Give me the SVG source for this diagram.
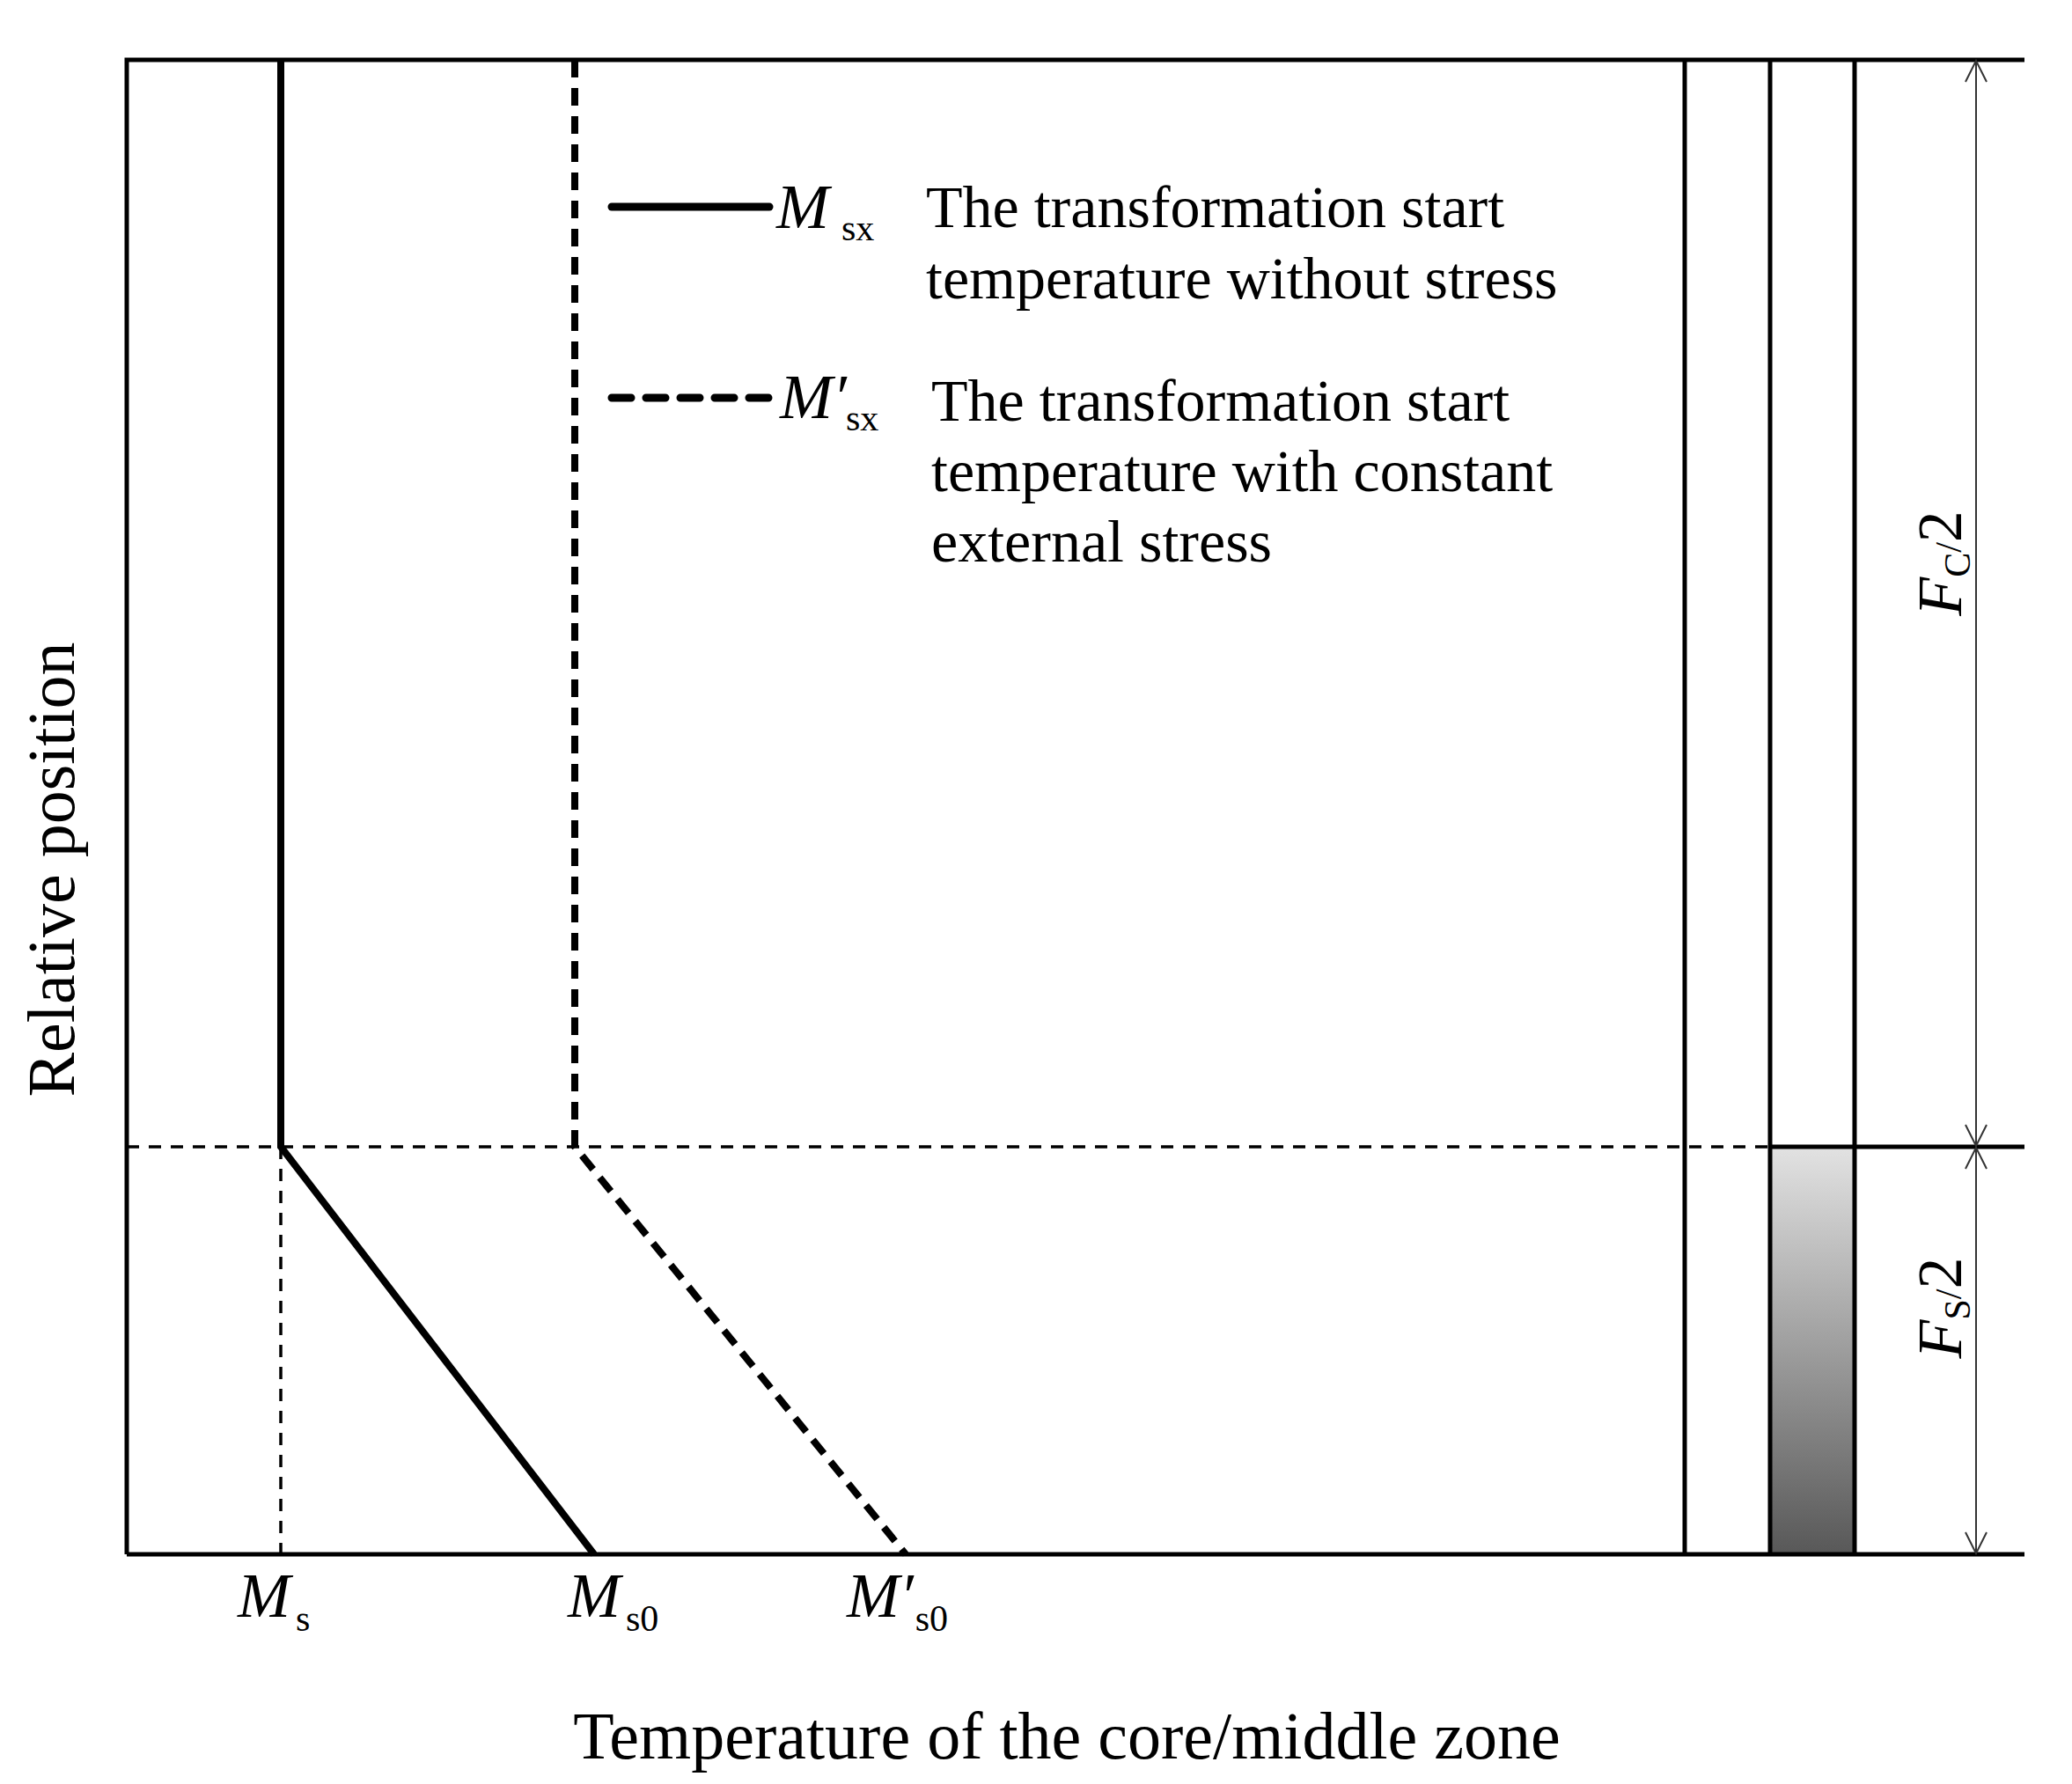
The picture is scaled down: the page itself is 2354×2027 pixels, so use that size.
<svg xmlns="http://www.w3.org/2000/svg" width="2354" height="2027" viewBox="0 0 2354 2027">
<style>
text{font-family:"Liberation Serif","Times New Roman",serif;fill:#000}
.t{font-size:68px}
.m{font-size:72px;font-style:italic}
.sub{font-size:42px;font-style:normal}
.frame{stroke:#000;stroke-width:5;fill:none}
.thick{stroke:#000;stroke-width:8;fill:none}
.thickd{stroke:#000;stroke-width:8;fill:none;stroke-dasharray:20,12}
.thind{stroke:#000;stroke-width:3.5;fill:none;stroke-dasharray:14,11}
.dim{stroke:#333;stroke-width:2;fill:none}
</style>
<defs>
<linearGradient id="g" x1="0" y1="0" x2="0" y2="1"><stop offset="0" stop-color="#e2e2e2"/><stop offset="1" stop-color="#585858"/></linearGradient>
<marker id="a" markerWidth="30" markerHeight="30" refX="28" refY="15" orient="auto-start-reverse" markerUnits="userSpaceOnUse" viewBox="0 0 30 30"><path d="M4,3 L28,15 L4,27" stroke="#333" stroke-width="2" fill="none"/></marker>
</defs>
<g id="frame">
<rect x="2011" y="1303" width="96" height="463" fill="url(#g)"/>
<path class="frame" d="M144,1766 V68 H2300 M144,1766 H2300 M1914,68 V1766 M2011,68 V1766 M2107,68 V1766 M2011,1303 H2300"/>
<path class="thind" d="M144,1303 H2011"/>
</g>
<g id="connectors">
<path class="thick" d="M319,68 V1303 L675,1766"/>
<path class="thickd" d="M653,68 V1303 L1029,1766"/>
<path class="thind" d="M319,1303 V1766"/>
<path class="dim" d="M2245,69 V1302" marker-start="url(#a)" marker-end="url(#a)"/>
<path class="dim" d="M2245,1304 V1765" marker-start="url(#a)" marker-end="url(#a)"/>
</g>
<g id="legend">
<path d="M695,235 H874" stroke="#000" stroke-width="9" stroke-linecap="round"/>
<path d="M695,452 H874" stroke="#000" stroke-width="9" stroke-linecap="round" stroke-dasharray="22,17"/>
<text class="m" x="882" y="259">M<tspan class="sub" x="956" dy="14">sx</tspan></text>
<text class="t" x="1052" y="258">The transformation start</text>
<text class="t" x="1052" y="339">temperature without stress</text>
<text class="m" x="886" y="475">M′<tspan class="sub" x="961" dy="14">sx</tspan></text>
<text class="t" x="1058" y="478">The transformation start</text>
<text class="t" x="1058" y="558">temperature with constant</text>
<text class="t" x="1058" y="638">external stress</text>
</g>
<g id="ticks">
<text class="m" x="270" y="1837">M<tspan class="sub" dx="6" dy="16">s</tspan></text>
<text class="m" x="645" y="1837">M<tspan class="sub" dx="6" dy="16">s0</tspan></text>
<text class="m" x="962" y="1837">M′<tspan class="sub" dx="2" dy="16">s0</tspan></text>
</g>
<g id="dims">
<text class="m" transform="translate(2228,640) rotate(-90)" text-anchor="middle">F<tspan class="sub" dy="10">C</tspan><tspan class="sub" dy="-10">/</tspan><tspan style="font-style:normal">2</tspan></text>
<text class="m" transform="translate(2228,1486) rotate(-90)" text-anchor="middle">F<tspan class="sub" dy="10">S</tspan><tspan class="sub" dy="-10">/</tspan><tspan style="font-style:normal">2</tspan></text>
</g>
<g id="axes">
<text class="t" x="1212" y="1998" text-anchor="middle" style="font-size:76px">Temperature of the core/middle zone</text>
<text class="t" transform="translate(84,988) rotate(-90)" text-anchor="middle" style="font-size:76px">Relative position</text>
</g>
</svg>
